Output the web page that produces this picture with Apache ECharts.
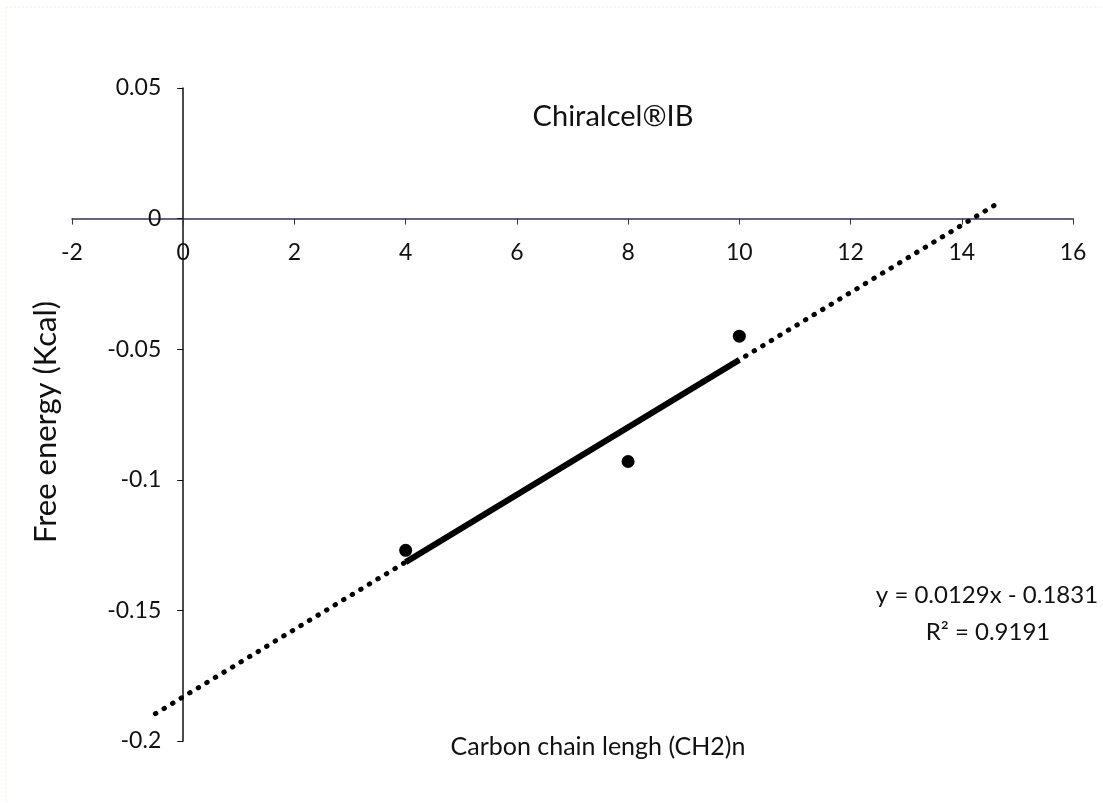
<!DOCTYPE html>
<html>
<head>
    <meta charset="utf-8">
    <title>Chiralcel IB</title>
    <script src="https://cdn.jsdelivr.net/npm/echarts@6/dist/echarts.min.js"></script>
    <style>
        body { margin: 0; background: #fff; }
    </style>
</head>
<body>

<div id="main" style="width: 1103px;height:803px;"></div>

<script type="text/javascript">

    // measured points
    var chainLength = [4, 8, 10];
    var freeEnergy = [-0.127, -0.093, -0.045];

    // linear trendline (from the equation on the chart)
    var slope = 0.0129;
    var intercept = -0.1831;
    var fitRange = [4, 10];           // solid part
    var forecastRange = [-0.5, 14.7]; // dotted extension

    var xTicks = [-2, 0, 2, 4, 6, 8, 10, 12, 14, 16];
    var yTicks = [-0.2, -0.15, -0.1, -0.05, 0, 0.05];

    function trend(range) {
        return range.map(function (x) { return [x, slope * x + intercept]; });
    }

    var font = 'Lato, "Open Sans", sans-serif';
    var gridLeft = 72, gridRight = 30, gridTop = 88, gridBottom = 62;
    var W = 1103, H = 803;

    var myChart = echarts.init(document.getElementById('main'));

    // axes cross at zero: shift each axis from the grid edge to the zero line
    var xMin = xTicks[0], xMax = xTicks[xTicks.length - 1];
    var yMin = yTicks[0], yMax = yTicks[yTicks.length - 1];
    var plotW = W - gridLeft - gridRight, plotH = H - gridTop - gridBottom;
    var xAxisShift = -plotH * (0 - yMin) / (yMax - yMin);
    var yAxisShift = -plotW * (0 - xMin) / (xMax - xMin);

    var option = {
        backgroundColor: '#fff',
        animation: false,
        grid: { left: gridLeft, right: gridRight, top: gridTop, bottom: gridBottom },
        xAxis: {
            type: 'value',
            min: xMin,
            max: xMax,
            interval: 2,
            offset: xAxisShift,
            splitLine: { show: false },
            axisLine: { onZero: false, lineStyle: { color: '#33335a', width: 1.5 } },
            axisTick: { show: true, length: 6, lineStyle: { color: '#33335a' } },
            axisLabel: { color: '#111', fontSize: 23, fontFamily: font, margin: 22 }
        },
        yAxis: {
            type: 'value',
            min: yMin,
            max: yMax,
            interval: 0.05,
            offset: yAxisShift,
            splitLine: { show: false },
            axisLine: { onZero: false, lineStyle: { color: '#111', width: 1.5 } },
            axisTick: { show: true, length: 6, lineStyle: { color: '#111' } },
            axisLabel: { color: '#111', fontSize: 23, fontFamily: font, margin: 22 }
        },
        series: [
            {
                type: 'line',
                data: trend(forecastRange),
                symbol: 'none',
                lineStyle: { color: '#000', width: 5, type: [0.5, 9.5], cap: 'round' },
                z: 2
            },
            {
                type: 'line',
                data: trend(fitRange),
                symbol: 'none',
                lineStyle: { color: '#000', width: 6 },
                z: 3
            },
            {
                type: 'scatter',
                data: chainLength.map(function (x, i) { return [x, freeEnergy[i]]; }),
                symbolSize: 13,
                itemStyle: { color: '#000', opacity: 1 },
                z: 4
            }
        ],
        graphic: [
            { type: 'line', shape: { x1: 6, y1: 7, x2: 1103, y2: 7 }, style: { stroke: '#f3f0cf', lineWidth: 1, lineDash: [2, 2] } },
            { type: 'line', shape: { x1: 6, y1: 7, x2: 6, y2: 803 }, style: { stroke: '#f3f0cf', lineWidth: 1, lineDash: [2, 2] } },
            {
                type: 'text',
                style: { x: 613, y: 117, text: 'Chiralcel®IB', fill: '#111', fontSize: 29, fontFamily: font, align: 'center', verticalAlign: 'middle' }
            },
            {
                type: 'text',
                style: { x: 987, y: 595, text: 'y = 0.0129x - 0.1831', fill: '#111', fontSize: 24, fontFamily: font, align: 'center', verticalAlign: 'middle' }
            },
            {
                type: 'text',
                style: { x: 988, y: 632, text: 'R² = 0.9191', fill: '#111', fontSize: 24, fontFamily: font, align: 'center', verticalAlign: 'middle' }
            },
            {
                type: 'text',
                style: { x: 598, y: 747, text: 'Carbon chain lengh (CH2)n', fill: '#111', fontSize: 25, fontFamily: font, align: 'center', verticalAlign: 'middle' }
            },
            {
                type: 'text',
                x: 46, y: 422, rotation: Math.PI / 2,
                style: { x: 0, y: 0, text: 'Free energy (Kcal)', fill: '#111', fontSize: 31, fontFamily: font, align: 'center', verticalAlign: 'middle' }
            }
        ]
    };

    myChart.setOption(option);

</script>
</body>
</html>
